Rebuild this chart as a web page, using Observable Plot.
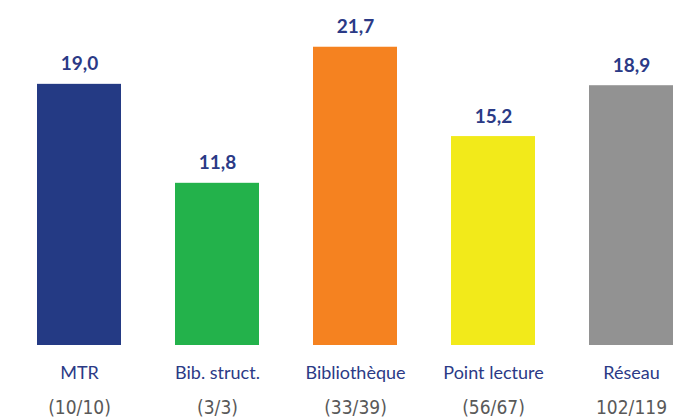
<!DOCTYPE html>
<html><head><meta charset="utf-8">
<script src="https://cdn.jsdelivr.net/npm/d3@7"></script>
<script src="https://cdn.jsdelivr.net/npm/@observablehq/plot@0.6"></script>
<style>
html,body{margin:0;padding:0;background:#fff;}
</style>
</head><body>
<div id="chart"></div>
<script>
const categories = ["MTR", "Bib. struct.", "Bibliothèque", "Point lecture", "Réseau"];
const counts = ["(10/10)", "(3/3)", "(33/39)", "(56/67)", "102/119"];
const values = [19.0, 11.8, 21.7, 15.2, 18.9];
const colors = ["#243A84", "#23B24B", "#F58220", "#F2EA1A", "#929292"];

const data = categories.map((c, i) => ({cat: c, count: counts[i], value: values[i], color: colors[i]}));
const fmt = v => v.toFixed(1).replace(".", ",");

const chart = Plot.plot({
  width: 686,
  height: 417,
  marginTop: 0,
  marginBottom: 72,
  marginLeft: 0,
  marginRight: 0,
  x: {domain: categories, range: [10, 700], paddingInner: 0.39, paddingOuter: 0.195, axis: null},
  y: {domain: [0, 25.1], axis: null},
  marks: [
    Plot.barY(data, {x: "cat", y: "value", fill: "color"}),
    Plot.ruleY([0], {x1: 12, x2: 686, stroke: "#e3e3e3", strokeWidth: 2, dy: 1}),
    Plot.text(data, {x: "cat", y: "value", text: d => fmt(d.value), dy: -20, fill: "#2B3A86", fontSize: 19, fontWeight: "bold", fontFamily: "Lato, 'Open Sans', sans-serif"}),
    Plot.text(data, {x: "cat", y: 0, text: "cat", dy: 28, fill: "#2B3A86", fontSize: 18, fontFamily: "Lato, 'Open Sans', sans-serif"}),
    Plot.text(data, {x: "cat", y: 0, text: "count", dy: 62, fill: "#595959", fontSize: 19, fontFamily: "'Liberation Sans Narrow', 'DejaVu Sans Condensed', sans-serif"})
  ]
});
document.getElementById("chart").appendChild(chart);
</script>
</body></html>
